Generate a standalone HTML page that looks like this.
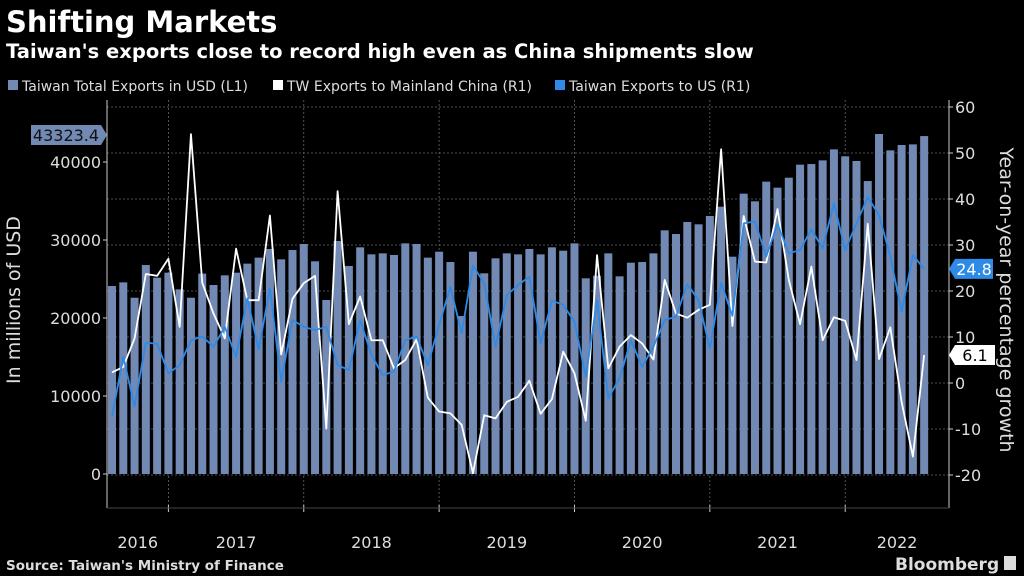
<!DOCTYPE html>
<html><head><meta charset="utf-8"><style>
body{margin:0;background:#000;width:1024px;height:576px;overflow:hidden;font-family:"Liberation Sans","DejaVu Sans",sans-serif;}
svg{display:block}
</style></head><body>
<svg id="chart" width="1024" height="576" viewBox="0 0 1024 576">
<rect width="1024" height="576" fill="#000"/>
<text x="6" y="32" fill="#fff" font-size="29" font-weight="bold" font-family="DejaVu Sans, sans-serif">Shifting Markets</text>
<text x="6" y="58" fill="#fff" font-size="19.5" font-weight="bold" font-family="DejaVu Sans, sans-serif">Taiwan's exports close to record high even as China shipments slow</text>
<g font-size="14" fill="#ddd" font-family="DejaVu Sans, sans-serif">
<g><rect x="8" y="80" width="10" height="10" fill="#7189b3"/><text x="22" y="91">Taiwan Total Exports in USD (L1)</text></g>
<g><rect x="273" y="80" width="10" height="10" fill="#fff"/><text x="287" y="91">TW Exports to Mainland China (R1)</text></g>
<g><rect x="555" y="80" width="10" height="10" fill="#2d8ae6"/><text x="569" y="91">Taiwan Exports to US (R1)</text></g>
</g>
<g id="grid"></g>
<g id="bars"></g>
<g id="lines"></g>
<g id="axes"></g>
<text transform="translate(20,300) rotate(-90)" text-anchor="middle" fill="#ddd" font-size="19" font-family="DejaVu Sans, sans-serif">In millions of USD</text>
<text transform="translate(1000,300) rotate(90)" text-anchor="middle" fill="#ddd" font-size="19" font-family="DejaVu Sans, sans-serif">Year-on-year percentage growth</text>
<text x="6" y="570" fill="#ddd" font-size="13.5" font-weight="bold" font-family="DejaVu Sans, sans-serif">Source: Taiwan's Ministry of Finance</text>
<text x="895" y="570" fill="#ddd" font-size="17" font-weight="bold" font-family="DejaVu Sans, sans-serif">Bloomberg</text>
<rect x="1004" y="556" width="12" height="14" fill="#ddd"/>
</svg>
<script>
const totalExports=[24100,24570,22600,26790,25170,25810,23670,22600,25690,24230,25470,25810,26970,27740,28850,27520,28720,29490,27270,22310,29870,26670,29060,28160,28290,28080,29570,29490,27740,28500,27180,20250,28500,25730,27650,28290,28160,28850,28160,29060,28630,29570,25090,25430,28290,25340,27090,27180,28290,31240,30770,32310,32010,33080,34270,27860,35940,34960,37480,36710,37990,39660,39740,40210,41620,40730,40130,37560,43590,41490,42180,42260,43323.4];
const chinaGrowth=[2.3,3.5,9.7,23.7,23.3,27,12.2,54.1,21.8,15.1,9.7,29.2,18,18,36.4,6.2,18.3,21.7,23.3,-9.9,41.7,12.8,18.8,9.3,9.3,3.2,5,9.5,-3.2,-6.2,-6.6,-9.1,-19.6,-7,-7.7,-4.1,-3,0.5,-6.7,-3.5,6.8,2.1,-8.2,27.8,3.2,7.9,10.4,8.6,5.1,22.4,15.1,14.2,15.9,17,50.8,12.4,36.3,26.4,26.2,37.8,22.4,12.8,25.3,9.3,14.3,13.5,5,34.6,5.2,12.1,-4.1,-16,6.1];
const usGrowth=[-7.3,5.7,-5.1,8.8,8.5,2.1,3.9,9.3,10.1,7.9,12.2,5.7,18.4,7.3,20.6,0.3,13.7,12.2,11.5,12.2,3.9,2.8,13.7,6.1,1.7,2.5,9.3,10.1,3.9,12.6,20.9,10.8,25.5,21.7,7.9,19.1,21.3,23.1,8.6,17.9,17,13.3,1.4,18,-3.3,1,9.3,3.5,7.9,13.7,14.4,21.5,18,7.5,21.8,14.6,34.7,35.1,27.5,34.6,28.2,28.9,33.4,29.3,39.1,28.9,34.7,40.4,36.5,27.5,15.5,27.8,24.8];
const leftTicks=[0,10000,20000,30000,40000];
const rightTicks=[60,50,40,30,20,10,0,-10,-20];
const yearLabels=["2016","2017","2018","2019","2020","2021","2022"];
const yearStartIndex=[0,5,17,29,41,53,65];

const NS="http://www.w3.org/2000/svg";
const xIdx=i=>112+i*11.28;
const yL=v=>474-v*0.0078;
const yR=v=>383-v*4.6;
function mk(tag,attrs,parent){const e=document.createElementNS(NS,tag);for(const k in attrs)e.setAttribute(k,attrs[k]);parent.appendChild(e);return e;}
const grid=document.getElementById('grid'),bars=document.getElementById('bars'),lines=document.getElementById('lines'),axes=document.getElementById('axes');
rightTicks.forEach(t=>{
  const g=mk('line',{x1:107,x2:949,y1:yR(t),y2:yR(t),stroke:'#666','stroke-width':0.8,'stroke-dasharray':'2,2'},grid);
  
  
  const tk=mk('line',{x1:949,x2:953,y1:yR(t),y2:yR(t),stroke:'#ccc'},axes);
  
  
  const tx=mk('text',{x:955,y:yR(t)+6,fill:'#ddd','font-size':16,'font-family':'DejaVu Sans, sans-serif'},axes);
  tx.textContent=t;
  
  
});
leftTicks.forEach(t=>{
  const tk=mk('line',{x1:103,x2:107,y1:yL(t),y2:yL(t),stroke:'#ccc'},axes);
  
  
  const tx=mk('text',{x:101,y:yL(t)+6,fill:'#ddd','font-size':16,'text-anchor':'end','font-family':'DejaVu Sans, sans-serif'},axes);
  tx.textContent=t;
  
  
});
yearStartIndex.forEach((si,k)=>{
  const x=k===0?107:xIdx(si);
  if(k>0){const v=mk('line',{x1:x,x2:x,y1:100,y2:508,stroke:'#666','stroke-width':0.8,'stroke-dasharray':'2,2'},grid);
  
  
  const tk=mk('line',{x1:x,x2:x,y1:505,y2:512,stroke:'#ccc'},axes);
  
  }
  const next=k<yearStartIndex.length-1?xIdx(yearStartIndex[k+1]):949;
  const tx=mk('text',{x:(x+next)/2,y:548,fill:'#ddd','font-size':16,'text-anchor':'middle','font-family':'DejaVu Sans, sans-serif'},axes);
  tx.textContent=yearLabels[k];
  
  
});
const la=mk('line',{x1:107,x2:107,y1:100,y2:508,stroke:'#ccc'},axes);


const ra=mk('line',{x1:949,x2:949,y1:100,y2:508,stroke:'#ccc'},axes);


const ba=mk('line',{x1:107,x2:949,y1:508,y2:508,stroke:'#444'},axes);


totalExports.forEach((v,i)=>{
  const r=mk('rect',{x:xIdx(i)-4,y:yL(v),width:8,height:yL(0)-yL(v),fill:'#7189b3'},bars);
  
  
});
function poly(arr,color,name){
  const p=mk('polyline',{points:arr.map((v,i)=>xIdx(i)+','+yR(v)).join(' '),fill:'none',stroke:color,'stroke-width':1.8,'stroke-linejoin':'round'},lines);
  
  
}
poly(chinaGrowth,'#fff','line-china-exports');
poly(usGrowth,'#2d8ae6','line-us-exports');
function label(txt,x,y,w,bg,fg,dir,name){
  const g=mk('g',{},axes);
  
  
  const pts=dir==='right'?`${x},${y-10} ${x+w},${y-10} ${x+w+6},${y} ${x+w},${y+10} ${x},${y+10}`:`${x+6},${y-10} ${x+w+6},${y-10} ${x+w+6},${y+10} ${x+6},${y+10} ${x},${y}`;
  mk('polygon',{points:pts,fill:bg},g);
  const t=mk('text',{x:dir==='right'?x+w/2:x+6+w/2,y:y+6,fill:fg,'font-size':16,'text-anchor':'middle','font-family':'DejaVu Sans, sans-serif'},g);
  t.textContent=txt;
}
const lastI=totalExports.length-1;
label(totalExports[lastI].toFixed(1),31,135,70,'#7189b3','#111','right','last-value-label-total');
label(usGrowth[lastI].toFixed(1),949,yR(usGrowth[lastI]),38,'#2d8ae6','#fff','left','last-value-label-us');
label(chinaGrowth[lastI].toFixed(1),949,yR(chinaGrowth[lastI]),40,'#fff','#000','left','last-value-label-china');
</script>
</body></html>
